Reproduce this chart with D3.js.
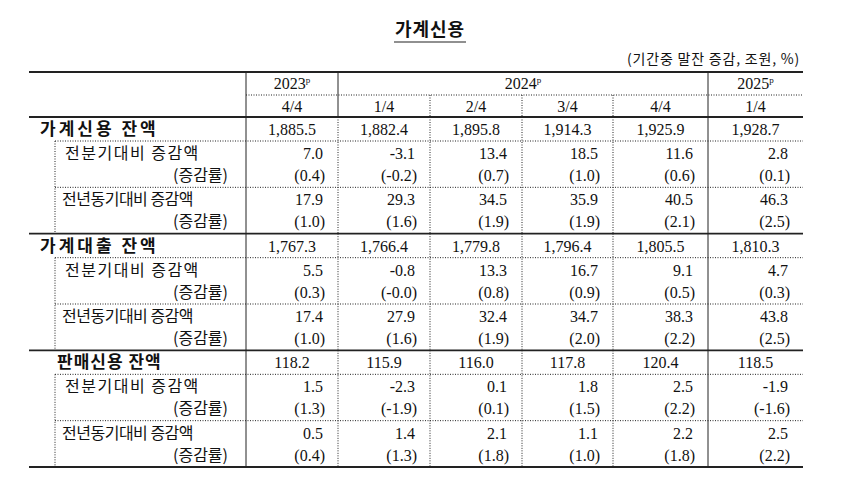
<!DOCTYPE html><html><head><meta charset="utf-8"><script src="https://cdn.jsdelivr.net/npm/d3@7"></script>
<style>body{margin:0;background:#fff}</style></head><body><svg id="c" width="860" height="487"></svg>
<script>
const years=[{y:"2023",n:1},{y:"2024",n:4},{y:"2025",n:1}];
const quarters=["4/4","1/4","2/4","3/4","4/4","1/4"];
const groups=["가계신용 잔액","가계대출 잔액","판매신용 잔액"];
const balance=[[1885.5,1882.4,1895.8,1914.3,1925.9,1928.7],[1767.3,1766.4,1779.8,1796.4,1805.5,1810.3],[118.2,115.9,116.0,117.8,120.4,118.5]];
const qoqAmt=[[7.0,-3.1,13.4,18.5,11.6,2.8],[5.5,-0.8,13.3,16.7,9.1,4.7],[1.5,-2.3,0.1,1.8,2.5,-1.9]];
const qoqRate=[[0.4,-0.2,0.7,1.0,0.6,0.1],[0.3,-0.0,0.8,0.9,0.5,0.3],[1.3,-1.9,0.1,1.5,2.2,-1.6]];
const yoyAmt=[[17.9,29.3,34.5,35.9,40.5,46.3],[17.4,27.9,32.4,34.7,38.3,43.8],[0.5,1.4,2.1,1.1,2.2,2.5]];
const yoyRate=[[1.0,1.6,1.9,1.9,2.1,2.5],[1.0,1.6,1.9,2.0,2.2,2.5],[0.4,1.3,1.8,1.0,1.8,2.2]];
const subLabels=["전분기대비 증감액","전년동기대비 증감액"];
const rateLabel="(증감률)";

const svg=d3.select("#c");
const L=29,R=803,LAB=246,IN=55;
const colEdges=[246,338,430,522,613,708,803];
const cx=i=>(colEdges[i]+colEdges[i+1])/2;
const gy=d3.scaleLinear().domain([0,3]).range([117,467]);
const loc=d3.formatLocale({decimal:".",thousands:",",grouping:[3],currency:["",""],minus:"-"});
const fmt=loc.format(",.1f");
const num=v=>Object.is(v,-0)?"-0.0":fmt(v);
const serif="'Liberation Serif','DejaVu Serif',serif";
const kr="'Noto Sans CJK KR',sans-serif";
const line=(x1,y1,x2,y2,w,dash)=>svg.append("line").attr("x1",x1).attr("y1",y1).attr("x2",x2).attr("y2",y2).attr("stroke","#222").attr("stroke-width",w).attr("stroke-dasharray",dash||null);
const text=(t,xx,yy,o={})=>svg.append("text").attr("x",xx).attr("y",yy).attr("text-anchor",o.a||"middle").attr("font-family",o.f||serif).attr("font-size",o.s||16).attr("font-weight",o.w||"normal").attr("letter-spacing",o.ls||0).attr("fill","#111").text(t);

text("가계신용",430,36,{f:kr,s:18,w:"bold",ls:1});
line(394,42,466,42,1.2);
text("(기간중 말잔 증감, 조원, %)",800,64,{a:"end",f:kr,s:14,ls:0.8});

line(L,72,R,72,2.2);
line(LAB,95,R,95,1,"1,1.5");
line(L,117,R,117,2.2);
let ci=0;
years.forEach(d=>{const xm=(colEdges[ci]+colEdges[ci+d.n])/2;
 const t=text(d.y,xm,89); t.append("tspan").attr("font-size",9).attr("dy",-6).text("p"); ci+=d.n;});
quarters.forEach((q,i)=>text(q,cx(i),112,{s:16}));
[246,338,708].forEach(v=>line(v,72,v,117,1));
[430,522,613].forEach(v=>line(v,95,v,117,1,"1,1.5"));

groups.forEach((g,k)=>{
 const y0=gy(k),y1=gy(k+1),h=y1-y0,bh=24,ph=(h-bh)/2;
 if(k>0)line(L,y0,R,y0,1.6);
 line(IN,y0+bh,R,y0+bh,1,"1,1.5");
 line(IN,y0+bh+ph,R,y0+bh+ph,1,"1,1.5");
 line(IN,y0+bh,IN,y1,1,"1,1.5");
 text(g,k==2?57:40,y0+18,{a:"start",f:kr,s:17,w:"bold",ls:k==2?1:3});
 balance[k].forEach((v,i)=>text(num(v),cx(i),y0+18));
 const pairs=[[qoqAmt[k],qoqRate[k]],[yoyAmt[k],yoyRate[k]]];
 pairs.forEach((p,j)=>{const py=y0+bh+j*ph;
  text(subLabels[j],j==0?65:62,py+18,{a:"start",f:kr,s:16,ls:j==0?1.5:-0.5});
  text(rateLabel,228,py+40,{a:"end",f:kr,s:16});
  p[0].forEach((v,i)=>text(num(v),colEdges[i+1]-15,py+18,{a:"end"}));
  p[1].forEach((v,i)=>text("("+num(v)+")",colEdges[i+1]-13,py+40,{a:"end"}));
 });
 [338,430,522,613].forEach(v=>line(v,y0,v,y1,1,"1,1.5"));
});
[246,708].forEach(v=>line(v,117,v,467,1));
line(L,467,R,467,2.2);
</script></body></html>
